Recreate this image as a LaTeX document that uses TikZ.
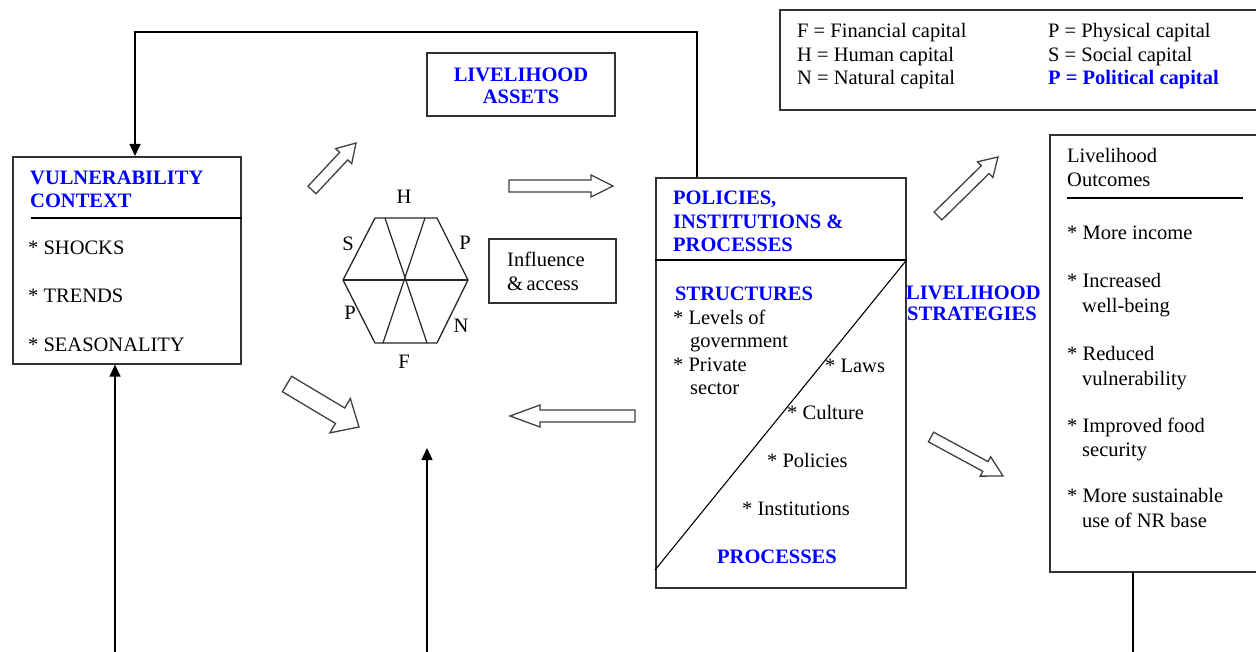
\documentclass[tikz,border=0pt]{standalone}
\usepackage{fontspec}
\setmainfont{Liberation Serif}
\usetikzlibrary{arrows.meta}
\definecolor{hblue}{RGB}{0,0,255}
\newcommand\hollowarr[8]{%
  \pgfmathsetmacro\hadx{#4-#2}\pgfmathsetmacro\hady{#5-#3}%
  \pgfmathsetmacro\hlen{veclen(\hadx,\hady)}%
  \pgfmathsetmacro\hang{atan2(-\hady,\hadx)}%
  \begin{scope}[shift={(#2,#3)},rotate=\hang]
    \draw[harrow] (0,-#6) -- ({\hlen-#8},-#6) -- ({\hlen-#8},-#7) -- (\hlen,0)
      -- ({\hlen-#8},#7) -- ({\hlen-#8},#6) -- (0,#6) -- cycle;
    \coordinate (#1) at (\hlen,0);
  \end{scope}}
\tikzset{
  box/.style={draw=black!80, line width=1.6pt, rectangle, inner sep=0pt},
  txt/.style={inner sep=0pt, anchor=base west, font=\fontsize{20.5}{24}\selectfont},
  head/.style={txt, font=\fontsize{20.5}{24}\selectfont\bfseries, text=hblue},
  lbl/.style={inner sep=0pt, font=\fontsize{20.5}{24}\selectfont},
  harrow/.style={draw=black!75, line width=1.3pt, fill=white, line join=miter},
  conn/.style={draw=black, line width=1.4pt},
  tip/.style={-{Triangle[length=12pt,width=11pt]}},
}
\begin{document}
\begin{tikzpicture}[x=1pt,y=-1pt]
\useasboundingbox[fill=white] (0,0) rectangle (1256,652);

% ---------- Vulnerability context ----------
\node[box, minimum width=228pt, minimum height=207pt, anchor=north west] (vul) at (12,156) {};
\draw[line width=1.4pt] (31,218) coordinate (vsepL) -- (vsepL -| vul.east);
\node[head] (vulh1) at (30,185) {VULNERABILITY};
\node[head] (vulh2) at (30,208) {CONTEXT};
\node[txt] (vul1) at (28,255) {* SHOCKS};
\node[txt] (vul2) at (28,303) {* TRENDS};
\node[txt] (vul3) at (28,352) {* SEASONALITY};

% ---------- Livelihood assets ----------
\node[box, minimum width=188pt, minimum height=63pt, anchor=north west] (assets) at (426,52) {};
\node[head, anchor=base] (ash1) at (521,82) {LIVELIHOOD};
\node[head, anchor=base] (ash2) at (521,104) {ASSETS};

% ---------- Hexagon ----------
\coordinate (htl) at (375,218);
\coordinate (htr) at (437,218);
\coordinate (hr) at (468,280);
\coordinate (hbr) at (437,343);
\coordinate (hbl) at (375,343);
\coordinate (hl) at (343,280);
\draw[line width=1.3pt, black!85, line join=round] (htl) -- (htr) -- (hr) -- (hbr) -- (hbl) -- (hl) -- cycle;
\draw[line width=1.2pt, black!85] (hl) -- (hr);
\draw[line width=1.2pt, black!85] (385,218) -- (427,343);
\draw[line width=1.2pt, black!85] (425,218) -- (383,343);
\node[lbl] (lH) at (404,197) {H};
\node[lbl] (lS) at (348,244) {S};
\node[lbl] (lP1) at (465,243) {P};
\node[lbl] (lP2) at (350,313) {P};
\node[lbl] (lN) at (461,326) {N};
\node[lbl] (lF) at (404,362) {F};

% ---------- Influence & access ----------
\node[box, minimum width=127pt, minimum height=64pt, anchor=north west] (infl) at (488,238) {};
\node[txt] (infl1) at (507,267) {Influence};
\node[txt] (infl2) at (507,291) {\&\,access};

% ---------- Policies, institutions & processes ----------
\node[box, minimum width=250pt, minimum height=410pt, anchor=north west] (pip) at (655,177) {};
\draw[line width=1.4pt] (655,260) coordinate (psepL) -- (psepL -| pip.east) coordinate (psepR);
\draw[line width=1.1pt] (psepR) -- (655,570) coordinate (pdiagL);
\node[head] (piph1) at (673,205) {POLICIES,};
\node[head] (piph2) at (673,229) {INSTITUTIONS \&};
\node[head] (piph3) at (673,252) {PROCESSES};
\node[head] (struct) at (675,301) {STRUCTURES};
\node[txt] (st1) at (673,325) {* Levels of};
\node[txt] (st2) at (690,348) {government};
\node[txt] (st3) at (673,371) {* Private};
\node[txt] (st4) at (690,395) {sector};
\node[txt] (pr1) at (825,372) {* Laws};
\node[txt] (pr2) at (787,419) {* Culture};
\node[txt] (pr3) at (767,467) {* Policies};
\node[txt] (pr4) at (742,515) {* Institutions};
\node[head, anchor=base] (proc) at (777,563) {PROCESSES};

% ---------- Livelihood strategies ----------
\node[head] (ls1) at (906,300) {LIVELIHOOD};
\node[head] (ls2) at (907,321) {STRATEGIES};

% ---------- Livelihood outcomes ----------
\draw[box] (1262,135) -- (1050,135) -- (1050,572) -- (1262,572);
\coordinate (outb) at (1133,572);
\node[txt] (o0a) at (1067,163) {Livelihood};
\node[txt] (o0b) at (1067,187) {Outcomes};
\draw[line width=2.6pt] (1067,198) -- (1243,198);
\node[txt] (o1) at (1067,240) {* More income};
\node[txt] (o2a) at (1067,288) {* Increased};
\node[txt] (o2b) at (1082,313) {well-being};
\node[txt] (o3a) at (1067,360) {* Reduced};
\node[txt] (o3b) at (1082,385) {vulnerability};
\node[txt] (o4a) at (1067,432) {* Improved food};
\node[txt] (o4b) at (1082,456) {security};
\node[txt] (o5a) at (1067,502) {* More sustainable};
\node[txt] (o5b) at (1082,527) {use of NR base};

% ---------- Legend ----------
\draw[box] (1262,10) -- (780,10) -- (780,110) -- (1262,110);
\node[txt] (lg1) at (797,38) {F = Financial capital};
\node[txt] (lg2) at (797,62) {H = Human capital};
\node[txt] (lg3) at (797,85) {N = Natural capital};
\node[txt] (lg4) at (1048,38) {P = Physical capital};
\node[txt] (lg5) at (1048,62) {S = Social capital};
\node[txt, font=\fontsize{20.5}{24}\selectfont\bfseries, text=hblue] (lg6) at (1048,85) {P = Political capital};

% ---------- Hollow block arrows ----------
\hollowarr{a1}{312}{190}{356}{143}{5.5}{11}{18}
\hollowarr{a2}{509}{186}{613}{186}{6}{11}{22}
\hollowarr{a3}{287}{384}{359}{427}{9}{20}{22}
\hollowarr{a4}{635}{416}{510}{416}{6}{11}{30}
\hollowarr{a5}{938}{216}{998}{157}{5.5}{11}{18}
\hollowarr{a6}{931}{437}{1003}{476}{5.5}{11}{20}

% ---------- Connectors ----------
\coordinate (ptop) at (697,177);
\draw[conn, tip] (ptop) -- (697,32) -| (vul.north -| 135,0);
\coordinate (vb) at (115,652);
\draw[conn, tip] (vb) -- (vb |- vul.south);
\coordinate (cb) at (427,652);
\coordinate (cend) at (427,448);
\draw[conn, tip] (cb) -- (cend);
\draw[conn] (outb) -- (1133,652);
\end{tikzpicture}
\end{document}
